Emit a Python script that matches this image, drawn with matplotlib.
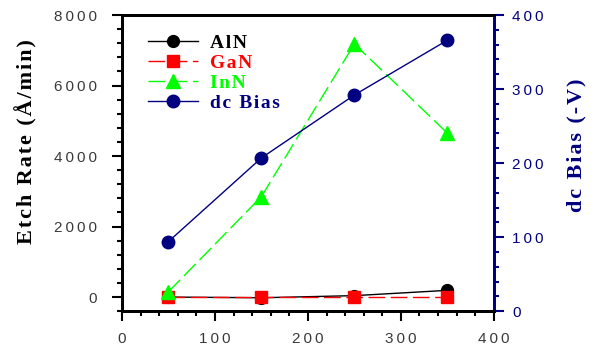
import matplotlib
matplotlib.use("Agg")
import matplotlib.pyplot as plt
from matplotlib.ticker import MultipleLocator, FuncFormatter

# ICP power (W)
power = [50, 150, 250, 350]

# etch rates (Å/min)
aln_rate = [0, -20, 40, 190]
gan_rate = [0, 0, 0, 0]
inn_rate = [150, 2850, 7180, 4650]

# dc bias (-V)
dc_bias = [94, 207, 292, 366]

series_names = ["AlN", "GaN", "InN", "dc Bias"]

NAVY = "#000080"
TICK_GREY = "#3a3a3a"
SERIF = ["Liberation Serif", "DejaVu Serif"]
SANS = ["Liberation Sans", "DejaVu Sans"]


def spaced(s, sep="\u200a"):
    return sep.join(s)


def spaced_num(v, pos=None):
    return "\u2009".join(f"{v:.0f}")


fig = plt.figure(figsize=(5.95, 3.5), dpi=100)
ax = fig.add_axes([0.205, 0.111, 0.625, 0.846])
ax2 = ax.twinx()

lw = 1.0
ms = 8.5
h_aln, = ax.plot(power, aln_rate, color="black", lw=lw, marker="o", ms=ms,
                 label=series_names[0], zorder=3)
h_gan, = ax.plot(power, gan_rate, color="red", lw=lw, marker="s", ms=ms + 0.5,
                 dashes=(12, 4), label=series_names[1], zorder=4)
h_inn, = ax.plot(power, inn_rate, color="#00ff00", lw=lw, marker="^", ms=ms + 1,
                 dashes=(12, 4), label=series_names[2], zorder=5)
h_dc, = ax2.plot(power, dc_bias, color=NAVY, lw=lw, marker="o", ms=ms + 0.5,
                 label=series_names[3], zorder=3)

ax.set_xlim(0, 400)
ax.set_ylim(-400, 8000)
ax2.set_ylim(0, 400)

ax.xaxis.set_major_locator(MultipleLocator(100))
ax.xaxis.set_minor_locator(MultipleLocator(20))
ax.yaxis.set_major_locator(MultipleLocator(2000))
ax.yaxis.set_minor_locator(MultipleLocator(400))
ax2.yaxis.set_major_locator(MultipleLocator(100))
ax2.yaxis.set_minor_locator(MultipleLocator(20))

fmt = FuncFormatter(spaced_num)
ax.xaxis.set_major_formatter(fmt)
ax.yaxis.set_major_formatter(fmt)
ax2.yaxis.set_major_formatter(fmt)

for a in (ax, ax2):
    for s in a.spines.values():
        s.set_linewidth(2.0)
ax2.spines["right"].set_color(NAVY)

ax.tick_params(axis="y", which="major", direction="out", length=7, width=1.5,
               labelsize=11, labelcolor=TICK_GREY, color="black", pad=11)
ax.tick_params(axis="x", which="major", direction="out", length=7, width=1.5,
               labelsize=11, labelcolor=TICK_GREY, color="black", pad=8)
ax.tick_params(axis="both", which="minor", direction="out", length=3.5, width=1.5,
               color="black")
ax2.tick_params(axis="y", which="major", direction="out", length=7, width=1.5,
                labelsize=11, labelcolor=NAVY, color=NAVY, pad=6)
ax2.tick_params(axis="y", which="minor", direction="out", length=3.5, width=1.5,
                color=NAVY)
for lab in ax.get_xticklabels() + ax.get_yticklabels() + ax2.get_yticklabels():
    lab.set_family(SANS)

ax.set_ylabel(spaced("Etch Rate (Å/min)"), fontsize=16, fontweight="bold",
              family=SERIF, va="center")
ax.yaxis.set_label_coords(-0.258, 0.573)
ax2.set_ylabel(spaced("dc Bias (-V)"), fontsize=16, fontweight="bold",
               family=SERIF, color=NAVY, rotation=90, va="center")
ax2.yaxis.set_label_coords(1.223, 0.56)

text_colors = ["black", "red", "#00ff00", NAVY]
leg = ax.legend(handles=[h_aln, h_gan, h_inn, h_dc],
                labels=[spaced(n) for n in series_names],
                loc="upper left", bbox_to_anchor=(0.043, 0.968), frameon=False,
                prop={"family": SERIF, "weight": "bold", "size": 14},
                handlelength=2.6, handletextpad=0.6, labelspacing=0.12,
                borderpad=0)
for t, c in zip(leg.get_texts(), text_colors):
    t.set_color(c)

fig.savefig("out.png", dpi=100)
